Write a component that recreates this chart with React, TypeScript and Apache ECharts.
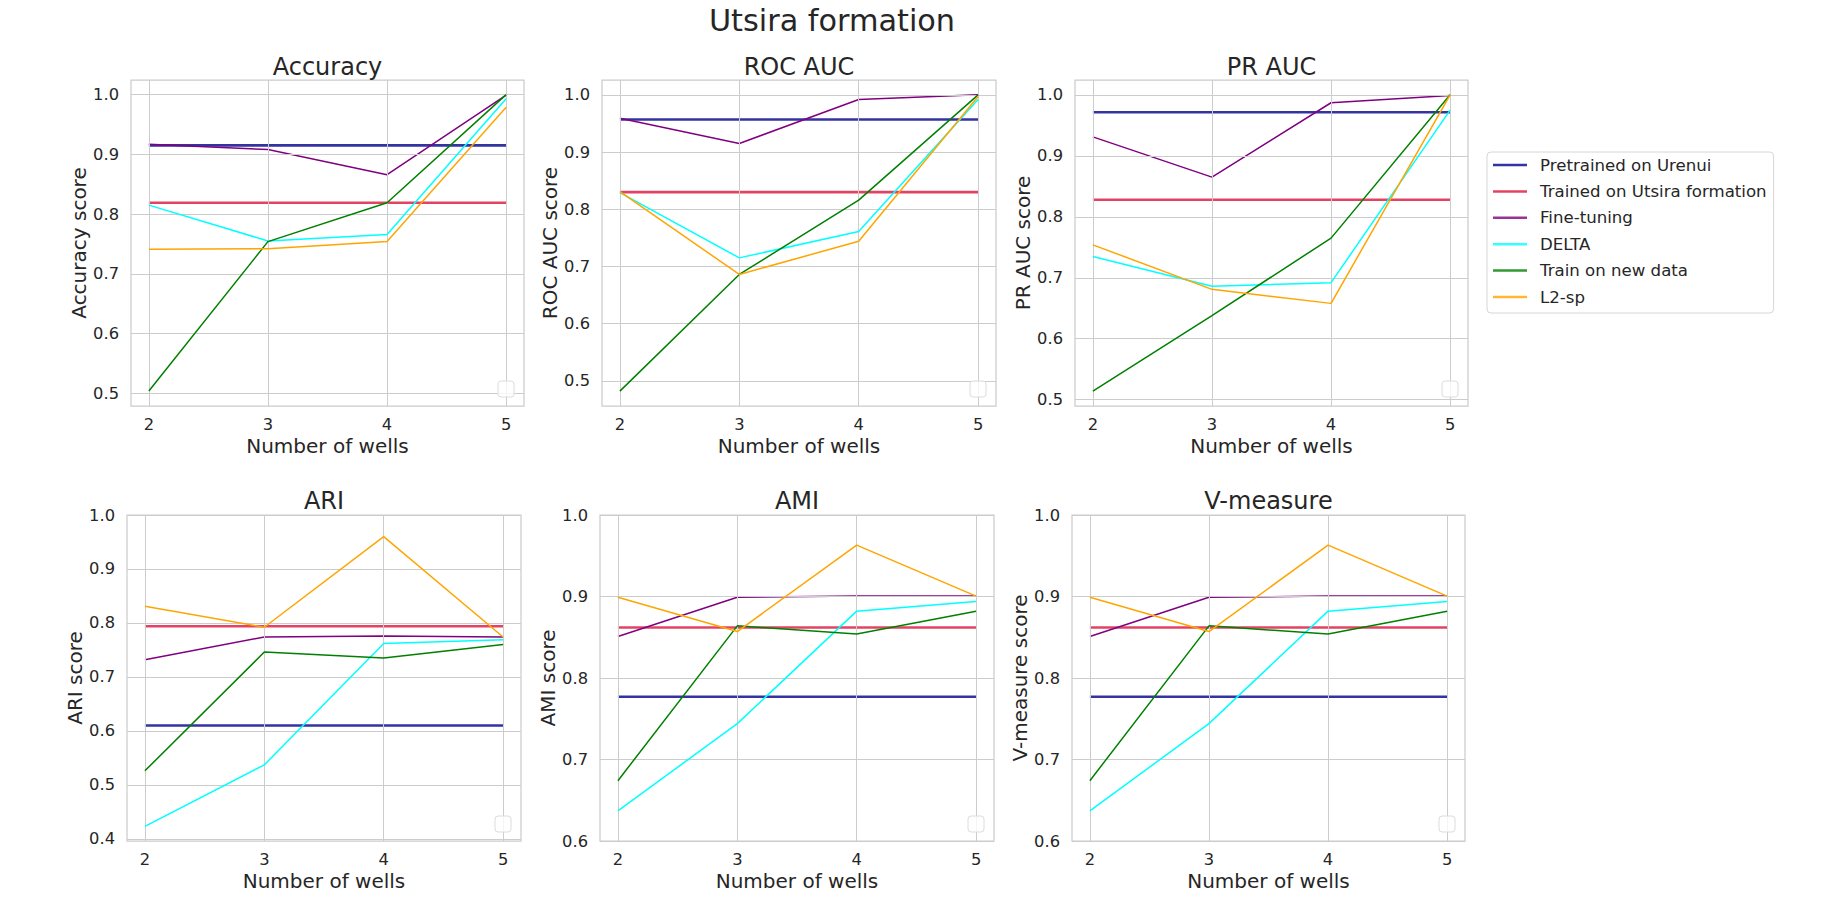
import React, { useEffect, useRef } from "react";
import * as echarts from "echarts";

const wells = [2, 3, 4, 5];
const metrics = ["Accuracy", "ROC AUC", "PR AUC", "ARI", "AMI", "V-measure"];
const yAxisNames = ["Accuracy score", "ROC AUC score", "PR AUC score", "ARI score", "AMI score", "V-measure score"];
const seriesNames = [
  "Pretrained on Urenui",
  "Trained on Utsira formation",
  "Fine-tuning",
  "DELTA",
  "Train on new data",
  "L2-sp",
];

// constant reference scores per metric
const pretrainedUrenui = [0.915, 0.957, 0.9715, 0.61, 0.777, 0.777];
const trainedUtsira = [0.819, 0.83, 0.828, 0.794, 0.862, 0.862];

// per metric, values at 2,3,4,5 wells
const fineTuning = [
  [0.917, 0.908, 0.866, 0.999],
  [0.959, 0.915, 0.992, 1.0],
  [0.931, 0.865, 0.987, 0.999],
  [0.732, 0.774, 0.776, 0.774],
  [0.851, 0.899, 0.9005, 0.9005],
  [0.851, 0.899, 0.9005, 0.9005],
];
const delta = [
  [0.815, 0.755, 0.766, 0.993],
  [0.829, 0.715, 0.761, 0.992],
  [0.735, 0.686, 0.692, 0.975],
  [0.423, 0.537, 0.762, 0.769],
  [0.637, 0.744, 0.882, 0.894],
  [0.637, 0.744, 0.882, 0.894],
];
const trainNewData = [
  [0.504, 0.754, 0.819, 1.0],
  [0.482, 0.686, 0.816, 1.0],
  [0.514, 0.638, 0.765, 1.0],
  [0.526, 0.746, 0.735, 0.76],
  [0.674, 0.864, 0.854, 0.882],
  [0.674, 0.864, 0.854, 0.882],
];
const l2sp = [
  [0.741, 0.742, 0.754, 0.979],
  [0.831, 0.686, 0.744, 0.997],
  [0.754, 0.681, 0.658, 1.0],
  [0.831, 0.792, 0.96, 0.774],
  [0.899, 0.857, 0.963, 0.9005],
  [0.899, 0.857, 0.963, 0.9005],
];

const yTicks = [
  [0.5, 0.6, 0.7, 0.8, 0.9, 1.0],
  [0.5, 0.6, 0.7, 0.8, 0.9, 1.0],
  [0.5, 0.6, 0.7, 0.8, 0.9, 1.0],
  [0.4, 0.5, 0.6, 0.7, 0.8, 0.9, 1.0],
  [0.6, 0.7, 0.8, 0.9, 1.0],
  [0.6, 0.7, 0.8, 0.9, 1.0],
];
const yMin = [0.4788, 0.456, 0.4897, 0.396, 0.6, 0.6];
const yMax = [1.0245, 1.026, 1.0243, 1.0, 1.0, 1.0];
const xMin = 1.85;
const xMax = 5.15;

const FONT = "'DejaVu Sans', sans-serif";
const TXT = "#262626";
const GRIDC = "#cccccc";

const rects = [
  { left: 131, top: 80, width: 393, height: 326 },
  { left: 602, top: 80, width: 394, height: 326 },
  { left: 1075, top: 80, width: 393, height: 326 },
  { left: 127, top: 515, width: 394, height: 326 },
  { left: 600, top: 515, width: 394, height: 326 },
  { left: 1072, top: 515, width: 393, height: 326 },
];

const colors = ["darkblue", "crimson", "purple", "cyan", "green", "orange"];

export default function App() {
  const ref = useRef<HTMLDivElement>(null);
  useEffect(() => {
    const chart = echarts.init(ref.current!, null, { renderer: "svg" });

    const grids: any[] = [];
    const xAxes: any[] = [];
    const yAxes: any[] = [];
    const series: any[] = [];
    const graphics: any[] = [];

    graphics.push({
      type: "text",
      x: 832,
      y: 20,
      style: {
        text: "Utsira formation",
        fontSize: 30.3,
        fontFamily: FONT,
        fill: TXT,
        align: "center",
        verticalAlign: "middle",
        textAlign: "center",
        textVerticalAlign: "middle",
      },
    });

    metrics.forEach((m, i) => {
      const r = rects[i];
      const row2 = i >= 3;
      grids.push({
        left: r.left,
        top: r.top,
        width: r.width,
        height: r.height,
        show: true,
        borderColor: GRIDC,
        borderWidth: 1.25,
        backgroundColor: "transparent",
        containLabel: false,
      });
      xAxes.push({
        type: "value",
        gridIndex: i,
        min: xMin,
        max: xMax,
        axisLine: { show: false },
        axisTick: { show: false },
        splitLine: { show: false },
        axisLabel: {
          customValues: wells,
          formatter: (v: number) => String(v),
          margin: 10,
          fontSize: 16.3,
          color: TXT,
          fontFamily: FONT,
        },
      });
      yAxes.push({
        type: "value",
        gridIndex: i,
        min: yMin[i],
        max: yMax[i],
        axisLine: { show: false },
        axisTick: { show: false },
        splitLine: { show: false },
        axisLabel: {
          customValues: yTicks[i],
          formatter: (v: number) => v.toFixed(1),
          margin: 12,
          fontSize: 16.3,
          color: TXT,
          fontFamily: FONT,
        },
      });
      // grid lines
      series.push({
        type: "line",
        xAxisIndex: i,
        yAxisIndex: i,
        data: [],
        silent: true,
        z: 1,
        markLine: {
          silent: true,
          symbol: ["none", "none"],
          label: { show: false },
          lineStyle: { color: GRIDC, width: 1, type: "solid" },
          emphasis: { disabled: true },
          data: [
            ...wells.map((w) => ({ xAxis: w })),
            ...yTicks[i].map((v) => ({ yAxis: v })),
          ],
        },
      });
      const lines = [
        wells.map((w) => [w, pretrainedUrenui[i]]),
        wells.map((w) => [w, trainedUtsira[i]]),
        wells.map((w, k) => [w, fineTuning[i][k]]),
        wells.map((w, k) => [w, delta[i][k]]),
        wells.map((w, k) => [w, trainNewData[i][k]]),
        wells.map((w, k) => [w, l2sp[i][k]]),
      ];
      lines.forEach((d, s) => {
        const thick = s < 2;
        series.push({
          type: "line",
          name: seriesNames[s],
          xAxisIndex: i,
          yAxisIndex: i,
          data: d,
          color: colors[s],
          showSymbol: false,
          symbol: "none",
          z: 2 + s,
          lineStyle: {
            color: colors[s],
            width: thick ? 2.6 : 1.5,
            opacity: thick ? 0.8 : 1,
          },
          emphasis: { disabled: true },
        });
      });

      const cx = r.left + r.width / 2;
      graphics.push({
        type: "text",
        x: cx,
        y: row2 ? 501 : 67,
        style: {
          text: m,
          fontSize: 24,
          fontFamily: FONT,
          fill: TXT,
          align: "center",
          verticalAlign: "middle",
          textAlign: "center",
          textVerticalAlign: "middle",
        },
      });
      graphics.push({
        type: "text",
        x: cx,
        y: row2 ? 881 : 446,
        style: {
          text: "Number of wells",
          fontSize: 20,
          fontFamily: FONT,
          fill: TXT,
          align: "center",
          verticalAlign: "middle",
          textAlign: "center",
          textVerticalAlign: "middle",
        },
      });
      graphics.push({
        type: "text",
        x: r.left - 52,
        y: r.top + r.height / 2,
        rotation: Math.PI / 2,
        style: {
          text: yAxisNames[i],
          fontSize: 20,
          fontFamily: FONT,
          fill: TXT,
          align: "center",
          verticalAlign: "middle",
          textAlign: "center",
          textVerticalAlign: "middle",
        },
      });
      // empty legend box of each panel
      graphics.push({
        type: "rect",
        x: r.left + r.width - 26,
        y: r.top + r.height - 25,
        shape: { x: 0, y: 0, width: 16, height: 16, r: 3 },
        style: { fill: "rgba(255,255,255,0.8)", stroke: "#dcdcdc", lineWidth: 1 },
        z: 100,
      });
    });

    const option: any = {
      animation: false,
      backgroundColor: "#ffffff",
      textStyle: { fontFamily: FONT },
      grid: grids,
      xAxis: xAxes,
      yAxis: yAxes,
      series,
      legend: {
        data: seriesNames,
        orient: "vertical",
        left: 1487,
        top: 152,
        icon: "rect",
        itemWidth: 34,
        itemHeight: 2.5,
        itemGap: 8.4,
        padding: [4, 7, 7, 6],
        borderColor: "#d6d6d6",
        borderWidth: 1,
        borderRadius: 4,
        backgroundColor: "#ffffff",
        selectedMode: false,
        itemStyle: { opacity: 0.8 },
        textStyle: {
          fontSize: 16.6,
          color: TXT,
          fontFamily: FONT,
          lineHeight: 18,
          padding: [0, 0, 0, 8],
        },
      },
      graphic: graphics,
    };
    chart.setOption(option);
    return () => chart.dispose();
  }, []);
  return (
    <div
      ref={ref}
      style={{ position: "fixed", left: 0, top: 0, width: 1833, height: 924, background: "#fff" }}
    />
  );
}
